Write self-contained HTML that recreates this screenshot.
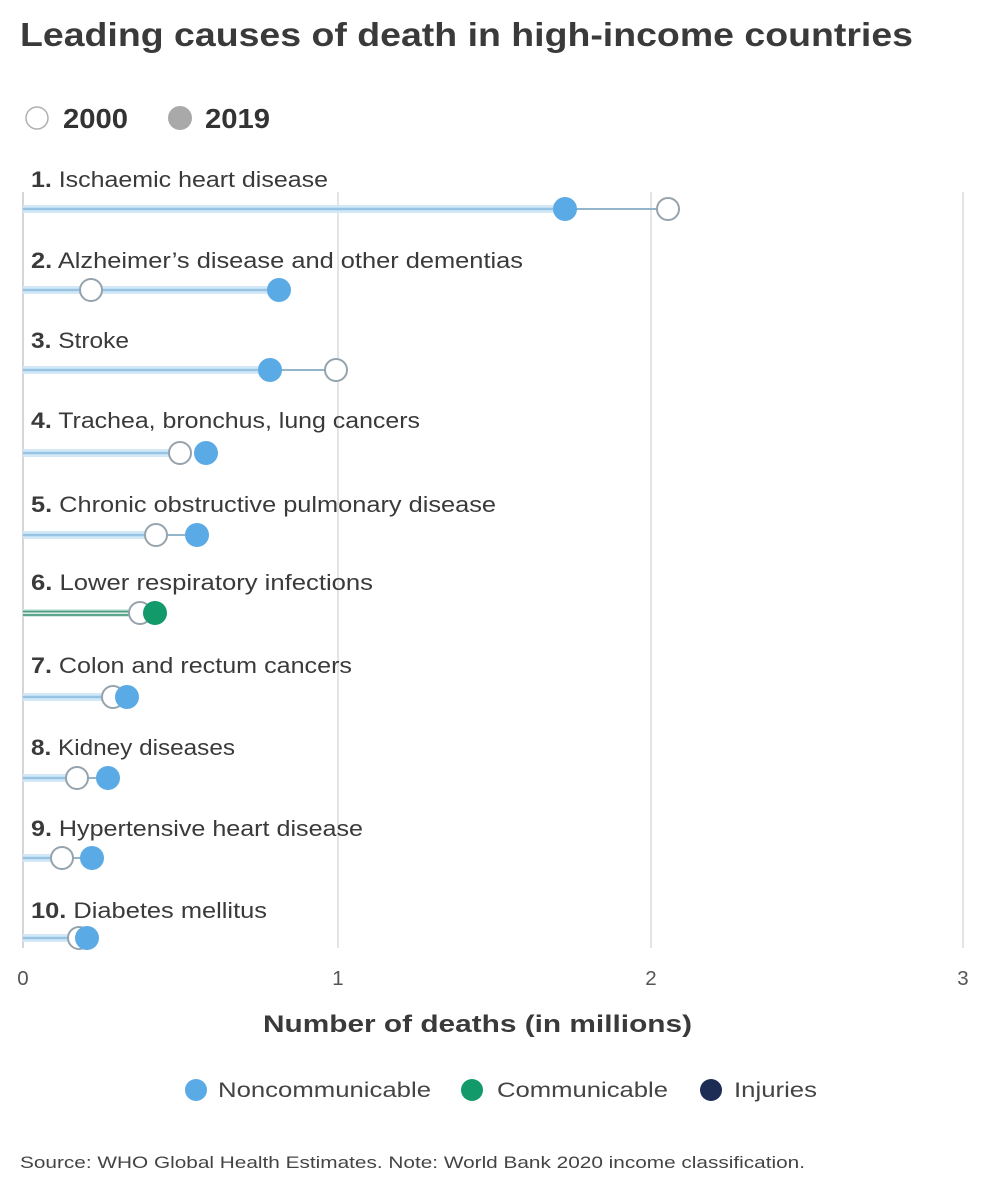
<!DOCTYPE html>
<html><head><meta charset="utf-8"><style>
html,body{margin:0;padding:0;background:#fff;}
svg{display:block;font-family:"Liberation Sans",sans-serif;}
</style></head><body>
<svg width="993" height="1200" viewBox="0 0 993 1200" xmlns="http://www.w3.org/2000/svg">
<rect width="993" height="1200" fill="#fff"/>
<!-- Title -->
<text x="20" y="46" font-size="33" font-weight="bold" fill="#3a3a3a" textLength="893" lengthAdjust="spacingAndGlyphs">Leading causes of death in high-income countries</text>
<!-- Year legend -->
<circle cx="37" cy="118" r="11" fill="#fff" stroke="#b0b0b0" stroke-width="1.5"/>
<text x="63" y="128" font-size="28" font-weight="bold" fill="#333" textLength="65" lengthAdjust="spacingAndGlyphs">2000</text>
<circle cx="180" cy="118" r="12" fill="#a9a9a9"/>
<text x="205" y="128" font-size="28" font-weight="bold" fill="#333" textLength="65" lengthAdjust="spacingAndGlyphs">2019</text>
<!-- Gridlines -->
<g stroke="#dcdcdc" stroke-width="1.5">
<line x1="338" y1="192" x2="338" y2="948"/>
<line x1="651" y1="192" x2="651" y2="948"/>
<line x1="963" y1="192" x2="963" y2="948"/>
</g>
<line x1="23" y1="192" x2="23" y2="948" stroke="#c8c8c8" stroke-width="1.5"/>
<!-- Labels -->
<g font-size="22.5" fill="#3a3a3a">
<text x="31" y="187" textLength="297" lengthAdjust="spacingAndGlyphs"><tspan font-weight="bold">1.</tspan> Ischaemic heart disease</text>
<text x="31" y="268" textLength="492" lengthAdjust="spacingAndGlyphs"><tspan font-weight="bold">2.</tspan> Alzheimer’s disease and other dementias</text>
<text x="31" y="348" textLength="98" lengthAdjust="spacingAndGlyphs"><tspan font-weight="bold">3.</tspan> Stroke</text>
<text x="31" y="428" textLength="389" lengthAdjust="spacingAndGlyphs"><tspan font-weight="bold">4.</tspan> Trachea, bronchus, lung cancers</text>
<text x="31" y="512" textLength="465" lengthAdjust="spacingAndGlyphs"><tspan font-weight="bold">5.</tspan> Chronic obstructive pulmonary disease</text>
<text x="31" y="590" textLength="342" lengthAdjust="spacingAndGlyphs"><tspan font-weight="bold">6.</tspan> Lower respiratory infections</text>
<text x="31" y="673" textLength="321" lengthAdjust="spacingAndGlyphs"><tspan font-weight="bold">7.</tspan> Colon and rectum cancers</text>
<text x="31" y="755" textLength="204" lengthAdjust="spacingAndGlyphs"><tspan font-weight="bold">8.</tspan> Kidney diseases</text>
<text x="31" y="836" textLength="332" lengthAdjust="spacingAndGlyphs"><tspan font-weight="bold">9.</tspan> Hypertensive heart disease</text>
<text x="31" y="918" textLength="236" lengthAdjust="spacingAndGlyphs"><tspan font-weight="bold">10.</tspan> Diabetes mellitus</text>
</g>
<!-- Bars -->
<g>
<!-- row1 -->
<rect x="23" y="205" width="542" height="8" fill="#d3e8f6"/><line x1="23" y1="209" x2="565" y2="209" stroke="#98c4e3" stroke-width="2.5"/>
<line x1="565" y1="209" x2="668" y2="209" stroke="#93b5cb" stroke-width="2"/>
<circle cx="668" cy="209" r="11" fill="#fff" stroke="#95a3ad" stroke-width="2"/>
<circle cx="565" cy="209" r="12" fill="#5aaae6"/>
<!-- row2 -->
<rect x="23" y="286" width="256" height="8" fill="#d3e8f6"/><line x1="23" y1="290" x2="279" y2="290" stroke="#98c4e3" stroke-width="2.5"/>
<circle cx="91" cy="290" r="11" fill="#fff" stroke="#95a3ad" stroke-width="2"/>
<circle cx="279" cy="290" r="12" fill="#5aaae6"/>
<!-- row3 -->
<rect x="23" y="366" width="247" height="8" fill="#d3e8f6"/><line x1="23" y1="370" x2="270" y2="370" stroke="#98c4e3" stroke-width="2.5"/>
<line x1="270" y1="370" x2="336" y2="370" stroke="#93b5cb" stroke-width="2"/>
<circle cx="336" cy="370" r="11" fill="#fff" stroke="#95a3ad" stroke-width="2"/>
<circle cx="270" cy="370" r="12" fill="#5aaae6"/>
<!-- row4 -->
<rect x="23" y="449" width="157" height="8" fill="#d3e8f6"/><line x1="23" y1="453" x2="180" y2="453" stroke="#98c4e3" stroke-width="2.5"/>
<circle cx="180" cy="453" r="11" fill="#fff" stroke="#95a3ad" stroke-width="2"/>
<circle cx="206" cy="453" r="12" fill="#5aaae6"/>
<!-- row5 -->
<rect x="23" y="531" width="133" height="8" fill="#d3e8f6"/><line x1="23" y1="535" x2="156" y2="535" stroke="#98c4e3" stroke-width="2.5"/>
<line x1="156" y1="535" x2="197" y2="535" stroke="#93b5cb" stroke-width="2"/>
<circle cx="156" cy="535" r="11" fill="#fff" stroke="#95a3ad" stroke-width="2"/>
<circle cx="197" cy="535" r="12" fill="#5aaae6"/>
<!-- row6 -->
<rect x="23" y="609" width="117" height="8" fill="#d2ece2"/><line x1="23" y1="611.5" x2="140" y2="611.5" stroke="#4d9a82" stroke-width="1.8"/><line x1="23" y1="615" x2="140" y2="615" stroke="#4d9a82" stroke-width="1.8"/>
<circle cx="140" cy="613" r="11" fill="#fff" stroke="#95a3ad" stroke-width="2"/>
<circle cx="155" cy="613" r="12" fill="#129a6b"/>
<!-- row7 -->
<rect x="23" y="693" width="90" height="8" fill="#d3e8f6"/><line x1="23" y1="697" x2="113" y2="697" stroke="#98c4e3" stroke-width="2.5"/>
<circle cx="113" cy="697" r="11" fill="#fff" stroke="#95a3ad" stroke-width="2"/>
<circle cx="127" cy="697" r="12" fill="#5aaae6"/>
<!-- row8 -->
<rect x="23" y="774" width="54" height="8" fill="#d3e8f6"/><line x1="23" y1="778" x2="77" y2="778" stroke="#98c4e3" stroke-width="2.5"/>
<line x1="77" y1="778" x2="108" y2="778" stroke="#93b5cb" stroke-width="2"/>
<circle cx="77" cy="778" r="11" fill="#fff" stroke="#95a3ad" stroke-width="2"/>
<circle cx="108" cy="778" r="12" fill="#5aaae6"/>
<!-- row9 -->
<rect x="23" y="854" width="39" height="8" fill="#d3e8f6"/><line x1="23" y1="858" x2="62" y2="858" stroke="#98c4e3" stroke-width="2.5"/>
<line x1="62" y1="858" x2="92" y2="858" stroke="#93b5cb" stroke-width="2"/>
<circle cx="62" cy="858" r="11" fill="#fff" stroke="#95a3ad" stroke-width="2"/>
<circle cx="92" cy="858" r="12" fill="#5aaae6"/>
<!-- row10 -->
<rect x="23" y="934" width="57" height="8" fill="#d3e8f6"/><line x1="23" y1="938" x2="80" y2="938" stroke="#98c4e3" stroke-width="2.5"/>
<circle cx="79" cy="938" r="11" fill="#fff" stroke="#95a3ad" stroke-width="2"/>
<circle cx="87" cy="938" r="12" fill="#5aaae6"/>
</g>
<!-- Tick labels -->
<g font-size="20.5" fill="#555" text-anchor="middle">
<text x="23" y="985">0</text>
<text x="338" y="985">1</text>
<text x="651" y="985">2</text>
<text x="963" y="985">3</text>
</g>
<text x="263" y="1032" font-size="24.5" font-weight="bold" fill="#3a3a3a" textLength="429" lengthAdjust="spacingAndGlyphs">Number of deaths (in millions)</text>
<!-- Category legend -->
<circle cx="196" cy="1090" r="11" fill="#5aaae6"/>
<text x="218" y="1097" font-size="21.5" fill="#444" textLength="213" lengthAdjust="spacingAndGlyphs">Noncommunicable</text>
<circle cx="472" cy="1090" r="11" fill="#129a6b"/>
<text x="497" y="1097" font-size="21.5" fill="#444" textLength="171" lengthAdjust="spacingAndGlyphs">Communicable</text>
<circle cx="711" cy="1090" r="11" fill="#1c2c55"/>
<text x="734" y="1097" font-size="21.5" fill="#444" textLength="83" lengthAdjust="spacingAndGlyphs">Injuries</text>
<!-- Source -->
<text x="20" y="1168" font-size="16.5" fill="#444" textLength="785" lengthAdjust="spacingAndGlyphs">Source: WHO Global Health Estimates. Note: World Bank 2020 income classification.</text>
</svg>
</body></html>
